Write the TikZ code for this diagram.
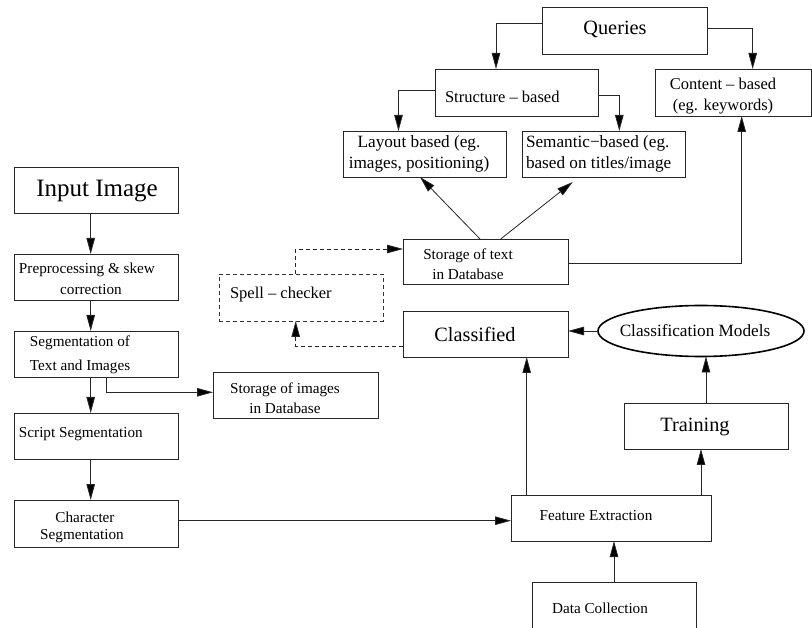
\documentclass[tikz,border=0pt]{standalone}
\usepackage{fontspec}
\setmainfont{Liberation Serif}
\usetikzlibrary{arrows.meta,shapes.geometric}
\tikzset{
  box/.style={draw=black!85, line width=0.9pt, rectangle, inner sep=0pt, outer sep=0pt},
  dbox/.style={box, draw=black!80, dash pattern=on 4pt off 3pt},
  ell/.style={draw=black, line width=1.6pt, ellipse, inner sep=0pt, outer sep=0pt},
  arr/.style={line width=0.8pt, draw=black!85, -{Triangle[length=16pt,width=8.5pt,fill=black]}},
  darr/.style={arr, dash pattern=on 4pt off 3pt},
  ln/.style={line width=0.8pt, draw=black!85},
  tx/.style={inner sep=0pt, outer sep=0pt, align=center},
  f25/.style={font=\fontsize{25}{30}\selectfont},
  f20/.style={font=\fontsize{20.3}{24}\selectfont},
  f17/.style={font=\fontsize{17.2}{21}\selectfont},
  f16/.style={font=\fontsize{16.5}{21}\selectfont},
  f15/.style={font=\fontsize{15.2}{20}\selectfont},
}
\newcommand\mybox[6][box]{\node[#1, minimum width={(#5-#3)*1pt}, minimum height={(#6-#4)*1pt}] (#2) at ({(#3+#5)/2},{(#4+#6)/2}) {};}
\begin{document}
\begin{tikzpicture}[x=1pt,y=-1pt]
\clip (0,0) rectangle (812,628);
\fill[white] (0,0) rectangle (812,628);

% boxes
\mybox{Queries}{542}{7}{707}{54}
\mybox{Structure}{435}{69}{598}{116}
\mybox{Content}{655}{69}{811}{116}
\mybox{Layout}{343}{131}{506}{177}
\mybox{Semantic}{522}{131}{685}{177}
\mybox{StorText}{403}{239}{568}{284}
\mybox[dbox]{Spell}{219}{274}{383}{321}
\mybox{Classified}{403}{311}{568}{357}
\node[ell, minimum width=206pt, minimum height=51pt] (Models) at (701,331) {};
\mybox{Training}{624}{403}{788}{449}
\mybox{Feature}{511}{495}{711}{541}
\mybox{Data}{532}{582}{696}{640}
\mybox{Input}{14}{167}{178}{213}
\mybox{Prep}{14}{254}{178}{300}
\mybox{SegTI}{14}{331}{178}{377}
\mybox{StorImg}{213}{372}{378}{418}
\mybox{Script}{14}{413}{178}{459}
\mybox{Char}{14}{500}{178}{547}

% texts
\node[tx,f20] (tQueries) at (615,29) {Queries};
\node[tx,f16,anchor=west] (tStructure) at (445,97) {Structure – based};
\node[tx,f16] (tContent) at (723,96) {Content – based\\(eg. keywords)};
\node[tx,f17] (tLayout) at (419,154) {Layout based (eg.\\images, positioning)};
\node[tx,f17,anchor=west,align=left] (tSemantic) at (526,154) {Semantic−based (eg.\\based on titles/image};
\node[tx,f15] (tStorText) at (468,264) {Storage of text\\in Database};
\node[tx,f16,anchor=west] (tSpell) at (230,295) {Spell – checker};
\node[tx,f20] (tClassified) at (475,334) {Classified};
\node[tx,f17] (tModels) at (695,331) {Classification Models};
\node[tx,f20] (tTraining) at (695,427) {Training};
\node[tx,f15] (tFeature) at (596,516) {Feature Extraction};
\node[tx,f15] (tData) at (600,608) {Data Collection};
\node[tx,f25] (tInput) at (97,191) {Input Image};
\node[tx,f15,anchor=west] (tPrep1) at (19,270) {Preprocessing \& skew};
\node[tx,f15] (tPrep2) at (91,290) {correction};
\node[tx,f15,anchor=west] (tSeg1) at (30,343) {Segmentation of};
\node[tx,f15,anchor=west] (tSeg2) at (30,367) {Text and Images};
\node[tx,f15] (tStorImg) at (285,398) {Storage of images\\in Database};
\node[tx,f15,anchor=west] (tScript) at (19,434) {Script Segmentation};
\node[tx,f15] (tChar1) at (85,517) {Character};
\node[tx,f15] (tChar2) at (82,536) {Segmentation};

% connectors: query tree
\draw[arr] ([yshift=7.5pt]Queries.west) -| ([xshift=-20.5pt]Structure.north);
\draw[arr] ([yshift=2.2pt]Queries.east) -| ([xshift=19.7pt]Content.north);
\draw[arr] ([yshift=2.5pt]Structure.west) -| ([xshift=-26pt]Layout.north);
\draw[arr] ([yshift=-3.2pt]Structure.east) -| ([xshift=15.8pt]Semantic.north);
\draw[arr] ([xshift=-5.5pt]StorText.north) -- ([xshift=-4.5pt]Layout.south);
\draw[arr] ([xshift=15.2pt]StorText.north) -- ([xshift=-30.8pt,yshift=-5pt]Semantic.south);
\draw[arr] ([yshift=-1.8pt]StorText.east) -| ([xshift=8.7pt]Content.south);

% spell checker
\draw[darr] ([xshift=-5.3pt]Spell.north) |- ([yshift=12.5pt]StorText.west);
\draw[darr] ([yshift=-12pt]Classified.west) -| ([xshift=-5.3pt]Spell.south);

% classification
\draw[arr] (Models.west) -- (Models.west -| Classified.east);
\draw[arr] (Training.north) -- (Training.north |- Models.south);
\draw[arr] ([xshift=-84.3pt]Feature.north) -- ([xshift=-84.3pt]Feature.north |- Classified.south);
\draw[arr] ([xshift=90pt]Feature.north) -- ([xshift=90pt]Feature.north |- Training.south);
\draw[arr] (Data.north) -- (Data.north |- Feature.south);

% left column
\draw[arr] ([xshift=-5.3pt]Input.south) -- ([xshift=-5.3pt]Prep.north);
\draw[arr] ([xshift=-5.3pt]Prep.south) -- ([xshift=-5.3pt]SegTI.north);
\draw[arr] ([xshift=-5.3pt]SegTI.south) -- ([xshift=-5.3pt]Script.north);
\draw[arr] ([xshift=-5.3pt]Script.south) -- ([xshift=-5.3pt]Char.north);
\draw[arr] ([xshift=10pt]SegTI.south) |- ([yshift=2.7pt]StorImg.west);
\draw[arr] ([yshift=2.8pt]Char.east) -- ([yshift=2.8pt]Char.east -| Feature.west);
\end{tikzpicture}
\end{document}
